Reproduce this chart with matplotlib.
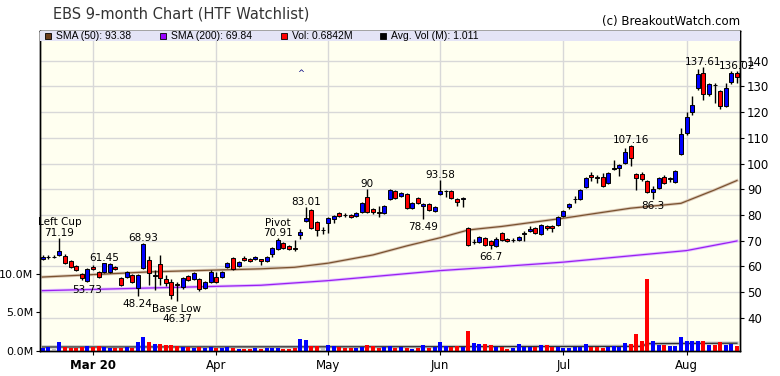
import matplotlib
matplotlib.use('Agg')
import matplotlib.pyplot as plt
from matplotlib.patches import Rectangle
import numpy as np

# daily candles (index 0 = first trading day shown), prices in $
opens = [62.7, 63.5, 63.7, 64.5, 64.0, 62.2, 60.1, 57.0, 54.3, 59.6,
         57.9, 57.9, 57.9, 59.6, 55.3, 56.0, 56.6, 51.7, 59.5, 62.3,
         56.2, 60.9, 55.1, 54.0, 52.9, 51.8, 56.1, 55.0, 55.0, 51.4,
         54.0, 55.7, 56.0, 59.8, 63.3, 60.1, 63.3, 62.8, 62.7, 62.7,
         62.1, 64.7, 66.6, 69.0, 67.9, 67.1, 72.2, 77.7, 81.9, 77.4,
         74.1, 76.7, 78.3, 80.9, 80.1, 80.0, 79.6, 81.0, 87.1, 82.2,
         81.0, 80.6, 86.1, 89.3, 87.5, 88.0, 82.6, 86.5, 83.5, 84.1,
         81.6, 88.0, 89.2, 89.3, 86.2, 86.1, 74.8, 69.5, 69.6, 71.1,
         69.8, 67.9, 73.0, 70.5, 70.1, 70.2, 72.7, 73.7, 75.0, 72.6,
         75.8, 75.8, 76.1, 79.6, 83.2, 86.0, 86.2, 91.0, 95.5, 94.7,
         94.6, 92.3, 98.0, 98.1, 100.1, 106.9, 95.8, 95.8, 93.3, 88.8,
         90.6, 94.9, 94.1, 92.9, 103.7, 111.8, 120.2, 129.3, 135.1, 126.9,
         130.6, 128.3, 122.4, 131.8, 135.1]
closes = [63.7, 63.7, 63.7, 66.1, 61.2, 59.6, 58.6, 55.3, 58.8, 58.9,
          55.7, 61.2, 61.0, 58.9, 52.7, 57.9, 54.0, 56.6, 68.6, 57.5,
          56.6, 55.3, 53.4, 48.8, 52.8, 55.6, 54.7, 57.3, 51.0, 54.0,
          57.9, 54.0, 57.9, 61.2, 58.8, 61.8, 62.4, 62.1, 63.5, 62.2,
          63.5, 67.0, 70.2, 67.0, 66.6, 66.9, 73.5, 78.7, 75.0, 74.1,
          74.1, 78.7, 79.6, 79.7, 79.9, 79.1, 80.9, 84.7, 81.2, 81.0,
          80.8, 83.5, 89.7, 86.5, 88.4, 82.6, 84.5, 84.5, 84.1, 81.9,
          83.2, 89.3, 89.3, 86.5, 84.9, 86.7, 68.3, 69.6, 71.3, 68.3,
          68.3, 70.8, 70.2, 69.8, 70.2, 71.5, 72.8, 74.5, 73.1, 76.1,
          75.0, 75.0, 79.1, 81.6, 84.2, 86.1, 89.7, 94.5, 94.6, 94.5,
          91.2, 96.4, 98.1, 99.4, 104.4, 102.3, 94.2, 93.9, 88.8, 90.0,
          94.5, 92.3, 94.2, 97.1, 111.5, 118.0, 122.8, 134.8, 126.9, 130.9,
          130.4, 122.4, 129.6, 135.1, 133.5]
highs = [64.2, 64.3, 64.3, 71.19, 64.6, 62.6, 60.5, 57.4, 59.3, 60.5,
         58.3, 61.45, 61.3, 60.2, 55.8, 58.3, 57.0, 57.0, 68.93, 63.8,
         58.6, 64.4, 56.5, 55.0, 54.0, 56.0, 56.6, 57.7, 55.4, 54.4,
         58.4, 57.9, 58.3, 61.5, 63.6, 62.2, 63.9, 63.2, 63.9, 62.9,
         64.0, 67.4, 70.91, 69.4, 68.3, 70.2, 74.4, 83.01, 82.4, 77.8,
         75.4, 79.0, 80.0, 81.3, 80.8, 80.4, 81.3, 85.1, 90.0, 82.6,
         83.6, 83.9, 90.1, 89.7, 88.8, 88.4, 84.9, 86.9, 84.5, 84.5,
         83.6, 93.58, 89.7, 89.7, 86.6, 87.1, 75.4, 70.5, 71.7, 71.5,
         70.2, 71.2, 73.4, 70.9, 70.9, 71.9, 73.6, 75.5, 75.4, 76.5,
         76.2, 76.2, 79.5, 82.0, 84.6, 87.5, 90.1, 94.9, 96.6, 95.6,
         96.4, 96.8, 101.4, 99.8, 106.0, 107.16, 96.2, 96.8, 93.7, 91.4,
         94.9, 95.6, 94.7, 97.5, 114.0, 120.0, 126.4, 136.8, 137.61, 131.3,
         131.2, 128.7, 131.5, 136.0, 136.02]
lows = [62.3, 63.0, 63.1, 64.0, 60.8, 59.2, 58.0, 54.8, 53.73, 58.4,
        55.3, 57.5, 57.5, 58.5, 52.2, 55.5, 53.5, 48.24, 59.0, 52.8,
        50.8, 52.7, 52.5, 47.4, 46.37, 51.3, 54.2, 54.6, 50.5, 51.0,
        53.6, 53.6, 55.5, 59.4, 58.4, 59.8, 62.0, 61.8, 62.4, 60.5,
        61.7, 63.7, 66.2, 66.6, 66.2, 66.1, 70.5, 77.2, 74.6, 71.8,
        72.6, 73.1, 77.0, 79.3, 79.2, 78.8, 79.3, 80.7, 80.8, 80.5,
        79.1, 80.2, 85.8, 86.1, 87.1, 82.2, 82.2, 84.1, 78.49, 81.5,
        81.2, 87.6, 86.8, 86.1, 83.6, 83.2, 67.9, 68.7, 69.2, 67.9,
        66.7, 67.5, 69.8, 69.4, 69.5, 69.8, 70.0, 73.3, 72.7, 72.2,
        74.0, 73.5, 75.7, 79.2, 82.4, 84.5, 85.8, 90.6, 93.0, 92.4,
        91.0, 92.0, 97.5, 95.0, 99.7, 99.1, 89.7, 93.0, 88.4, 86.3,
        90.2, 91.9, 92.9, 92.5, 103.3, 111.0, 119.0, 128.5, 124.7, 126.3,
        123.4, 121.1, 122.0, 131.0, 131.5]
# daily volume, millions of shares
volume = [0.39, 0.52, 0.22, 1.17, 0.52, 0.39, 0.39, 0.52, 0.65, 0.52,
          0.65, 0.52, 0.39, 0.39, 0.39, 0.52, 0.39, 1.17, 1.82, 1.17,
          0.91, 0.91, 0.78, 0.78, 0.65, 0.52, 0.52, 0.39, 0.52, 0.39,
          0.52, 0.39, 0.39, 0.52, 0.39, 0.26, 0.26, 0.26, 0.39, 0.26,
          0.39, 0.39, 0.39, 0.26, 0.26, 0.39, 1.56, 1.43, 0.65, 0.65,
          0.39, 0.78, 0.65, 0.52, 0.39, 0.39, 0.39, 0.52, 0.78, 0.65,
          0.39, 0.52, 0.65, 0.39, 0.52, 0.39, 0.26, 0.39, 0.78, 0.39,
          0.52, 1.17, 0.65, 0.52, 0.65, 0.52, 2.60, 1.04, 0.91, 0.91,
          0.78, 0.52, 0.52, 0.26, 0.39, 0.91, 0.52, 0.52, 0.52, 0.78,
          0.78, 0.52, 0.52, 0.39, 0.39, 0.52, 0.52, 0.91, 0.52, 0.52,
          0.39, 0.52, 0.65, 0.52, 1.04, 0.91, 2.21, 1.30, 9.35, 1.30,
          0.78, 0.78, 0.65, 0.65, 1.82, 1.30, 1.30, 1.30, 1.30, 0.78,
          0.78, 1.17, 0.78, 0.91, 0.65]

# moving averages read at a few days
sma50_day = [0, 19, 39, 45, 51, 59, 65, 71, 76, 78, 82, 93, 105, 114, 120, 124]
sma50_val = [55.8, 57.8, 59.0, 59.6, 61.2, 64.4, 67.9, 71.1, 74.1, 74.6, 75.5,
             78.7, 82.6, 84.5, 89.7, 93.38]
sma200_day = [0, 39, 51, 71, 82, 93, 115, 124]
sma200_val = [50.5, 52.6, 54.4, 58.3, 59.9, 61.6, 66.1, 69.84]
avgvol_day = [0, 60, 107, 108, 124]
avgvol_val = [0.52, 0.55, 0.6, 0.95, 1.011]

month_pos = [9, 31, 51, 71, 93, 115]
month_lab = ['Mar 20', 'Apr', 'May', 'Jun', 'Jul', 'Aug']

# (day, price, text, above?)
notes = [(3, 71.19, 'Left Cup\n71.19', True), (8, 53.73, '53.73', False),
         (11, 61.45, '61.45', True), (17, 48.24, '48.24', False),
         (18, 68.93, '68.93', True), (24, 46.37, 'Base Low\n46.37', False),
         (42, 70.91, 'Pivot\n70.91', True), (47, 83.01, '83.01', True),
         (58, 90, '90', True), (68, 78.49, '78.49', False),
         (71, 93.58, '93.58', True), (80, 66.7, '66.7', False),
         (105, 107.16, '107.16', True), (109, 86.3, '86.3', False),
         (118, 137.61, '137.61', True), (124, 136.02, '136.02', True)]

BLUE = '#0000ff'
RED = '#ff0000'

fig = plt.figure(figsize=(7.8, 3.76), dpi=100)
ax = fig.add_axes([40/780, 25/376, 700/780, 320/376])
ax.set_facecolor('#fffff0')

x = np.arange(len(opens))
o = np.array(opens)
c = np.array(closes)
cols = [BLUE if cc > oo else (RED if cc < oo else '#c0c0c0') for oo, cc in zip(o, c)]
body_cols = [BLUE if cc >= oo else RED for oo, cc in zip(o, c)]

ax.set_xlim(-0.45, 124.55)
ax.set_ylim(27.0, 151.6)
ax.set_yticks(range(40, 150, 10))
ax.set_xticks(month_pos)
ax.set_xticklabels(month_lab)
ax.get_xticklabels()[0].set_fontweight('bold')
ax.grid(True, color='#d8d8d8', lw=1)
ax.set_axisbelow(True)
ax.tick_params(axis='x', labelsize=8.5, length=3, pad=3)

# moving averages with a soft halo
ax.plot(sma50_day, sma50_val, color='#dccbb8', lw=2.2, zorder=1.5)
ax.plot(sma50_day, sma50_val, color='#7a5230', lw=0.9, zorder=1.6)
ax.plot(sma200_day, sma200_val, color='#e2c4ff', lw=2.2, zorder=1.5)
ax.plot(sma200_day, sma200_val, color='#9b1ff0', lw=0.9, zorder=1.6)

# candles
ax.vlines(x, lows, highs, color='black', lw=1, zorder=2)
ax.bar(x, np.abs(c - o), bottom=np.minimum(o, c), width=0.72,
       color=body_cols, edgecolor='black', lw=0.7, zorder=3)

for d, p, t, up in notes:
    ax.annotate(t, (d, p), xytext=(0, 0 if up else -2), textcoords='offset points',
                ha='center', va='bottom' if up else 'top', fontsize=7.5,
                linespacing=1.05, zorder=6, annotation_clip=False)
ax.text(46, 135.2, '^', ha='center', va='center', fontsize=6, color='#000080')

# volume on the left axis
axv = ax.twinx()
axv.set_ylim(0, 41.5)
axv.plot(avgvol_day, avgvol_val, color='#c4c4c4', lw=2.5, zorder=1)
axv.plot(avgvol_day, avgvol_val, color='#303030', lw=0.9, zorder=1.1)
axv.bar(x, volume, width=0.72, color=cols, lw=0, zorder=2)
axv.yaxis.tick_left()
axv.set_yticks([0, 5, 10])
axv.set_yticklabels(['0.0M', '5.0M', '10.0M'])
axv.tick_params(axis='y', labelsize=8, length=3, pad=2)

# twinx moved the price ticks to the left; put them back on the right
ax.yaxis.tick_right()
ax.tick_params(axis='y', labelsize=8.5, length=3, pad=2)

# legend band across the top
axv.add_patch(Rectangle((0, 1 - 10/320), 1, 10/320, transform=axv.transAxes,
                        facecolor='#e4e4f6', edgecolor='none', zorder=8))
leg = [('#6b3f1d', 'SMA (50): 93.38', 45), ('#9900ff', 'SMA (200): 69.84', 160),
       ('#ff0000', 'Vol: 0.6842M', 281), ('#000000', 'Avg. Vol (M): 1.011', 380)]
for col, lab, px in leg:
    axv.add_patch(Rectangle(((px - 40) / 700, 1 - 8/320), 6/700, 6/320,
                            transform=axv.transAxes, facecolor=col,
                            edgecolor='black', lw=0.6, zorder=9))
    axv.text((px - 40 + 11) / 700, 1 - 5/320, lab, transform=axv.transAxes,
             fontsize=7.5, family='Liberation Sans', va='center', ha='left', zorder=9)

for a in (ax, axv):
    for s in a.spines.values():
        s.set_color('black')
        s.set_linewidth(1)

fig.text(53/780, 1 - 14/376, 'EBS 9-month Chart (HTF Watchlist)', fontsize=10.5,
         color='#333333', va='center', ha='left')
fig.text(740/780, 1 - 21/376, '(c) BreakoutWatch.com', fontsize=8.5,
         color='black', va='center', ha='right')

fig.savefig('out.png', dpi=100)
